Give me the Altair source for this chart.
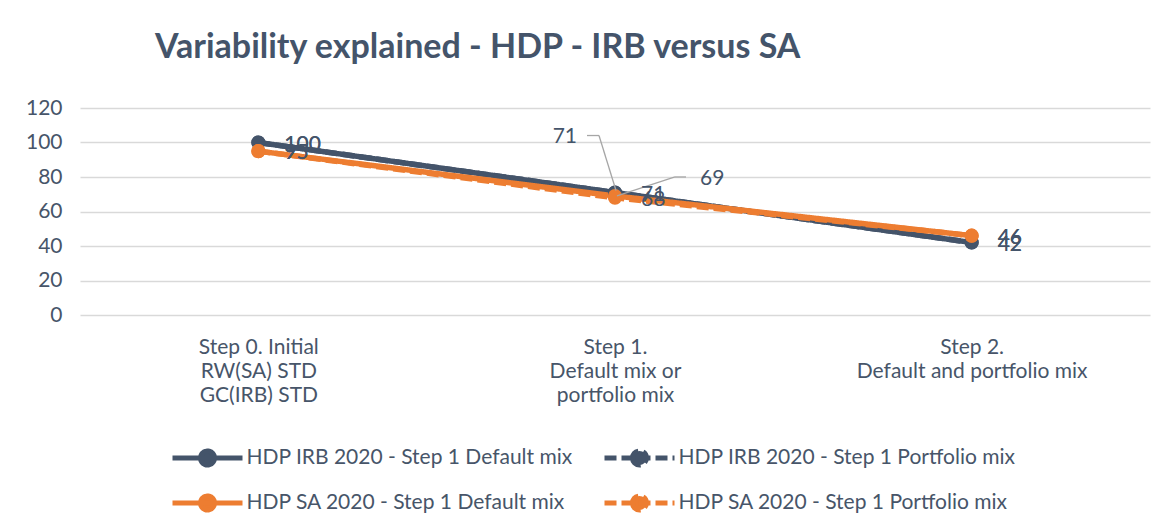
import altair as alt
import pandas as pd

steps = [
    "Step 0. Initial\nRW(SA) STD\nGC(IRB) STD",
    "Step 1.\nDefault mix or\nportfolio mix",
    "Step 2.\nDefault and portfolio mix",
]
series_names = [
    "HDP IRB 2020 - Step 1 Default mix",
    "HDP IRB 2020 - Step 1 Portfolio mix",
    "HDP SA 2020 - Step 1 Default mix",
    "HDP SA 2020 - Step 1 Portfolio mix",
]
irb_default = [100, 71, 42]
irb_portfolio = [100, 71, 42]
sa_default = [95, 69, 46]
sa_portfolio = [95, 68, 46]
y_ticks = [0, 20, 40, 60, 80, 100, 120]

colors = ["#44546A", "#44546A", "#ED7D31", "#ED7D31"]
dashes = [[1, 0], [12, 5], [1, 0], [12, 5]]

rows = []
for name, vals in zip(series_names, [irb_default, irb_portfolio, sa_default, sa_portfolio]):
    for s, v in zip(steps, vals):
        rows.append({"step": s, "series": name, "value": v})
df = pd.DataFrame(rows)

FONT = "Lato"
SLATE = "#44546A"
TXT = "#475569"
FS = 21

sym_path = "M-2,0H2M-0.4,0A0.4,0.4,0,1,0,0.4,0A0.4,0.4,0,1,0,-0.4,0Z"
legend = alt.Legend(
    title=None, orient="none", legendX=90, legendY=330, columns=2, direction="horizontal",
    symbolType=sym_path, symbolSize=1225, symbolStrokeWidth=5, symbolOffset=17.5,
    labelFontSize=FS, labelColor=TXT, labelFont=FONT, labelLimit=0,
    columnPadding=21, rowPadding=8, labelOffset=19, padding=0,
)

x_enc = alt.X(
    "step:N", sort=steps, title=None,
    scale=alt.Scale(type="point", padding=0.5),
    axis=alt.Axis(labelAngle=0, domain=False, ticks=False, grid=False,
                  labelFontSize=FS, labelColor=TXT, labelFont=FONT, labelLimit=0,
                  labelLineHeight=24, labelPadding=21,
                  labelExpr="split(datum.value, '\\n')"),
)
y_enc = alt.Y(
    "value:Q", title=None, scale=alt.Scale(domain=[0, 120]),
    axis=alt.Axis(values=y_ticks, domain=False, ticks=False, grid=True,
                  gridColor="#D9D9D9", gridWidth=1.3,
                  labelFontSize=FS, labelColor=TXT, labelFont=FONT, labelPadding=18),
)

base = alt.Chart(df).encode(x=x_enc, y=y_enc)

color = alt.Color("series:N", scale=alt.Scale(domain=series_names, range=colors), legend=legend)
dash = alt.StrokeDash("series:N", scale=alt.Scale(domain=series_names, range=dashes), legend=legend)

lines = base.mark_line(strokeWidth=5.5).encode(color=color, strokeDash=dash)
points = base.mark_circle(size=200, opacity=1).encode(
    color=alt.Color("series:N", scale=alt.Scale(domain=series_names, range=colors), legend=None))

s1 = steps[1]
moved_irb = f"datum.series == '{series_names[0]}' && datum.step == '{s1}'".replace("\n", "\\n")
moved_sa = f"datum.series == '{series_names[2]}' && datum.step == '{s1}'".replace("\n", "\\n")

labels = base.mark_text(align="left", baseline="middle", dx=26, dy=2, fontSize=FS,
                        font=FONT, color=SLATE).encode(text="value:Q").transform_filter(
    f"!({moved_irb}) && !({moved_sa})")
label_irb = base.mark_text(align="right", baseline="middle", dx=-38, dy=-56, fontSize=FS,
                           font=FONT, color=SLATE).encode(text="value:Q").transform_filter(moved_irb)
label_sa = base.mark_text(align="left", baseline="middle", dx=85, dy=-17, fontSize=FS,
                          font=FONT, color=SLATE).encode(text="value:Q").transform_filter(moved_sa)

lead_style = dict(color="#A6A6A6", strokeWidth=1.3)
lead_base_irb = alt.Chart(df).transform_filter(moved_irb).encode(x=x_enc, y=y_enc, x2="step:N", y2="value:Q")
lead_base_sa = alt.Chart(df).transform_filter(moved_sa).encode(x=x_enc, y=y_enc, x2="step:N", y2="value:Q")
lead1 = lead_base_irb.mark_rule(xOffset=-28, yOffset=-57, x2Offset=-16, y2Offset=-57, **lead_style)
lead2 = lead_base_irb.mark_rule(xOffset=-16, yOffset=-57, x2Offset=1, y2Offset=-2, **lead_style)
lead3 = lead_base_sa.mark_rule(xOffset=71, yOffset=-19, x2Offset=60, y2Offset=-19, **lead_style)
lead4 = lead_base_sa.mark_rule(xOffset=60, yOffset=-19, x2Offset=2, y2Offset=0, **lead_style)

chart = alt.layer(lines, points, lead1, lead2, lead3, lead4, labels, label_irb, label_sa).properties(
    width=1070, height=207,
    autosize=alt.AutoSizeParams(type="none"),
    padding={"left": 72, "top": 100, "right": 16, "bottom": 208},
    title=alt.TitleParams(
        "Variability explained - HDP - IRB versus SA",
        anchor="start", frame="group", offset=32, dx=75,
        font=FONT, fontSize=34, fontWeight="bold", color=SLATE,
    ),
).configure_view(stroke=None)

chart.save("out.html", embed_options={"renderer": "svg", "actions": False})
